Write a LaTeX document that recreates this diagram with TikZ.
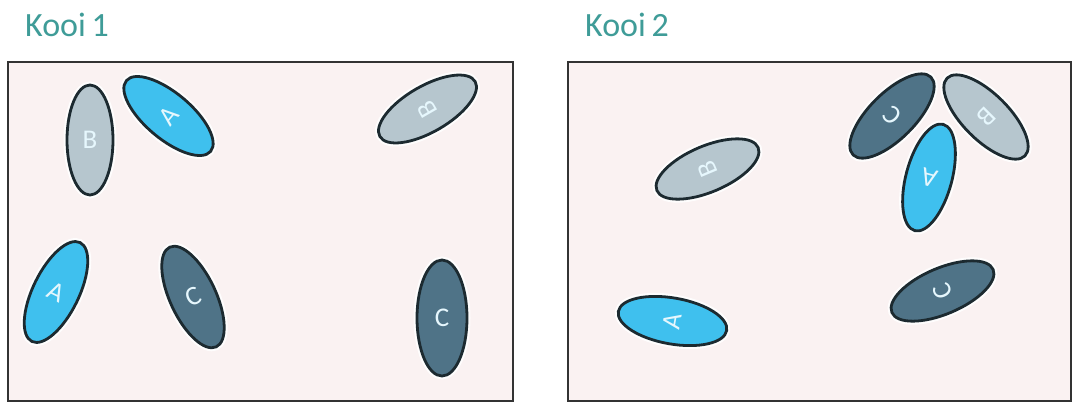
\documentclass[tikz,border=0pt]{standalone}
\usepackage{fontspec}
\setmainfont{Carlito}
\usetikzlibrary{shapes.geometric}
\definecolor{ttl}{HTML}{3F9C98}
\definecolor{cA}{HTML}{3FC0EE}
\definecolor{cB}{HTML}{B6C6CE}
\definecolor{cC}{HTML}{4F7387}
\definecolor{rim}{HTML}{1C2A30}
\definecolor{pen}{HTML}{FAF2F2}
\tikzset{
  pentitle/.style={anchor=south west, inner sep=0pt, text=ttl, font=\fontsize{34}{34}\selectfont},
  penbox/.style={draw=black!80, line width=2.2pt, fill=pen},
  cow/.style={ellipse, draw=rim, line width=2.8pt, minimum width=46pt, minimum height=110pt,
              inner sep=0pt, text=white!90!cyan, font=\fontsize{27}{27}\selectfont,
              preaction={draw=white, draw opacity=0.85, line width=7pt}},
  ca/.style={cow, fill=cA},
  cb/.style={cow, fill=cB},
  cc/.style={cow, fill=cC}
}
\begin{document}
\begin{tikzpicture}[x=1pt,y=-1pt]
\useasboundingbox[fill=white] (0,0) rectangle (1074,402);
% titles
\node[pentitle] (t1) at (25,37) {Kooi\,1};
\node[pentitle] (t2) at (585,37) {Kooi\,2};
% pens
\draw[penbox] (8,62) rectangle (513,401);
\draw[penbox] (568,62) rectangle (1071,401);
% Kooi 1
\node[cb, rotate=0] (k1b1) at (90,140) {B};
\node[ca, rotate=50] (k1a1) at (168.5,116) {A};
\node[cb, rotate=120] (k1b2) at (427.5,109) {B};
\node[ca, rotate=-26] (k1a2) at (56,292) {A};
\node[cc, rotate=25] (k1c1) at (193,297) {C};
\node[cc, rotate=0, minimum width=50pt, minimum height=116pt] (k1c2) at (442,318) {C};
% Kooi 2
\node[cb, rotate=113] (k2b1) at (707.5,169) {B};
\node[cc, rotate=135] (k2c1) at (892,116) {C};
\node[cb, rotate=-135] (k2b2) at (986,117) {B};
\node[ca, rotate=165] (k2a1) at (929,177.5) {A};
\node[ca, rotate=80] (k2a2) at (672.5,321) {A};
\node[cc, rotate=113] (k2c2) at (942.5,291) {C};
\end{tikzpicture}
\end{document}
